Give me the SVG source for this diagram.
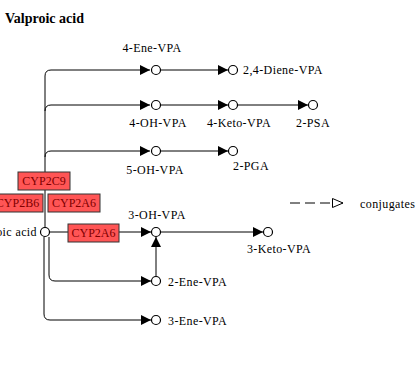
<svg xmlns="http://www.w3.org/2000/svg" width="417" height="366" viewBox="0 0 417 366" font-family="'Liberation Serif', 'DejaVu Serif', serif">
<style>
text{font-family:'Liberation Serif','DejaVu Serif',serif;font-size:12px;fill:#000;letter-spacing:0.4px}
.title{font-weight:bold;font-size:14px;letter-spacing:0}
.edge{fill:none;stroke:#000;stroke-width:1}
.cpd{fill:#fff;stroke:#000;stroke-width:1.2}
.enz rect{fill:#ff5555;stroke:#333;stroke-width:1}
.enz text{fill:#800000;text-anchor:middle;letter-spacing:0}
.mid{text-anchor:middle}
</style>
<defs>
<marker id="ah" viewBox="0 0 10 10" refX="10" refY="5" markerWidth="10" markerHeight="10" markerUnits="userSpaceOnUse" orient="auto">
<path d="M0,0 L10,5 L0,10 Z" fill="#000"/>
</marker>
<marker id="oh" viewBox="0 0 12 10" refX="11" refY="5" markerWidth="12" markerHeight="10" markerUnits="userSpaceOnUse" orient="auto">
<path d="M0.5,0.5 L11,5 L0.5,9.5 Z" fill="#fff" stroke="#000"/>
</marker>
</defs>
<rect width="417" height="366" fill="#fff"/>
<text class="title" x="5" y="23">Valproic acid</text>
<g id="connectors">
<path class="edge" d="M45,228 V76 Q45,70 51,70 H150" marker-end="url(#ah)"/>
<path class="edge" d="M45,111 Q45,105 51,105 H150" marker-end="url(#ah)"/>
<path class="edge" d="M45,157 Q45,151 51,151 H150" marker-end="url(#ah)"/>
<path class="edge" d="M160,70 H228" marker-end="url(#ah)"/>
<path class="edge" d="M160,105 H228" marker-end="url(#ah)"/>
<path class="edge" d="M237,105 H308" marker-end="url(#ah)"/>
<path class="edge" d="M160,151 H228" marker-end="url(#ah)"/>
<path class="edge" d="M49,232 H68"/>
<path class="edge" d="M119,232 H151" marker-end="url(#ah)"/>
<path class="edge" d="M161,232 H263" marker-end="url(#ah)"/>
<path class="edge" d="M49,237 V275 Q49,281 55,281 H151" marker-end="url(#ah)"/>
<path class="edge" d="M44,237 V314 Q44,320 50,320 H151" marker-end="url(#ah)"/>
<path class="edge" d="M156,276 V237" marker-end="url(#ah)"/>
<path class="edge" d="M290,203 H343" stroke-dasharray="10,5" marker-end="url(#oh)"/>
</g>
<g id="enz-cyp2c9" class="enz"><rect x="18" y="172" width="52" height="18"/><text x="44" y="185">CYP2C9</text></g>
<g id="enz-cyp2b6" class="enz"><rect x="-8" y="194" width="51" height="18"/><text x="17.5" y="207">CYP2B6</text></g>
<g id="enz-cyp2a6a" class="enz"><rect x="48" y="194" width="52" height="18"/><text x="74" y="207">CYP2A6</text></g>
<g id="enz-cyp2a6b" class="enz"><rect x="68" y="224" width="51" height="18"/><text x="93.5" y="237">CYP2A6</text></g>
<g id="valproic"><circle class="cpd" cx="45" cy="232" r="4.5"/><text x="37" y="236" text-anchor="end">Valproic acid</text></g>
<g id="ene4"><circle class="cpd" cx="156" cy="70" r="4.5"/><text class="mid" x="152" y="52">4-Ene-VPA</text></g>
<g id="diene24"><circle class="cpd" cx="233" cy="70" r="4.5"/><text x="243" y="74">2,4-Diene-VPA</text></g>
<g id="oh4"><circle class="cpd" cx="156" cy="105" r="4.5"/><text class="mid" x="158" y="127">4-OH-VPA</text></g>
<g id="keto4"><circle class="cpd" cx="233" cy="105" r="4.5"/><text class="mid" x="239" y="127">4-Keto-VPA</text></g>
<g id="psa2"><circle class="cpd" cx="313" cy="105" r="4.5"/><text class="mid" x="313" y="127">2-PSA</text></g>
<g id="oh5"><circle class="cpd" cx="156" cy="151" r="4.5"/><text class="mid" x="155" y="174">5-OH-VPA</text></g>
<g id="pga2"><circle class="cpd" cx="233" cy="151" r="4.5"/><text x="233" y="170">2-PGA</text></g>
<g id="oh3"><circle class="cpd" cx="156" cy="232" r="4.5"/><text class="mid" x="157" y="219">3-OH-VPA</text></g>
<g id="keto3"><circle class="cpd" cx="268" cy="232" r="4.5"/><text class="mid" x="279" y="253">3-Keto-VPA</text></g>
<g id="ene2"><circle class="cpd" cx="156" cy="281" r="4.5"/><text x="168" y="286">2-Ene-VPA</text></g>
<g id="ene3"><circle class="cpd" cx="156" cy="320" r="4.5"/><text x="168" y="325">3-Ene-VPA</text></g>
<g id="legend"><text x="360" y="208">conjugates</text></g>
</svg>
